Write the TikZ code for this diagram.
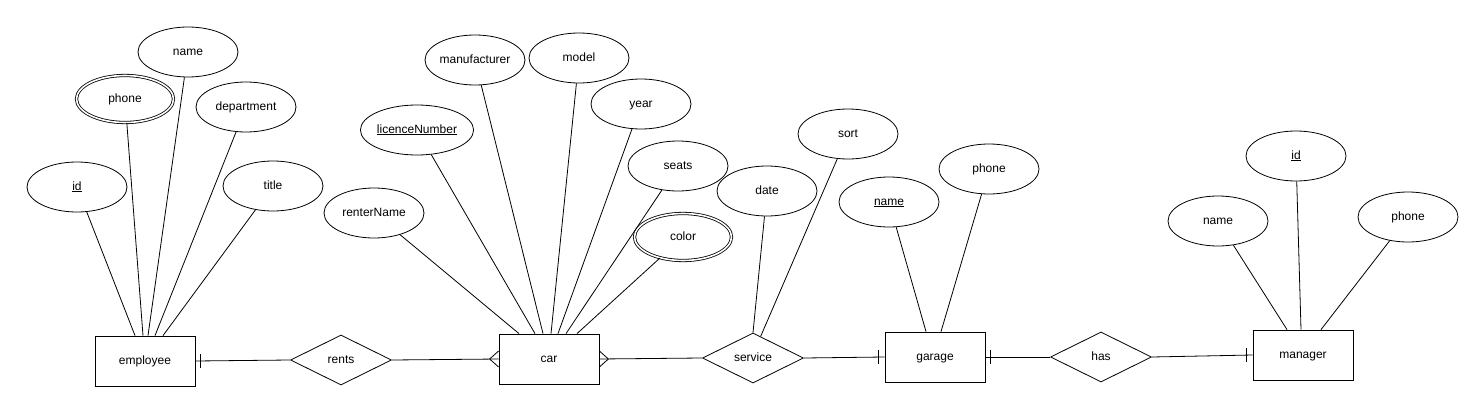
\documentclass[tikz,border=0pt]{standalone}
\usepackage{fontspec}
\setmainfont{Liberation Sans}
\usetikzlibrary{shapes.geometric,calc}
\begin{document}
\begin{tikzpicture}[x=1pt,y=-1pt,line width=0.8pt]
	\tikzstyle{every node} = [font=\fontsize{12}{14}\selectfont, text height=8.6pt, text depth=2.4pt]
	\tikzstyle{attr} = [draw, ellipse, minimum width=100pt, minimum height=50pt, inner sep=0pt]
	\tikzstyle{multiattr} = [attr, double, double distance=1.6pt, minimum width=97pt, minimum height=47pt]
	\tikzstyle{entity} = [draw, rectangle, minimum width=100pt, minimum height=50pt, inner sep=0pt]
	\tikzstyle{relation} = [draw, diamond, aspect=2, minimum width=101pt, minimum height=50pt, inner sep=0pt]
	\useasboundingbox (0,0) rectangle (1480,412);
	\node[entity] (employee) at (145,361) {employee};
	\node[entity] (car) at (549,359) {car};
	\node[entity] (garage) at (935,357) {garage};
	\node[entity] (manager) at (1303,355) {manager};
	\node[relation] (rents) at (341,360) {rents};
	\node[relation] (service) at (753,358) {service};
	\node[relation] (has) at (1101,357) {has};
	\node[attr] (empid) at (77,187) {\underline{id}};
	\node[multiattr] (empphone) at (125,99) {phone};
	\node[attr] (empname) at (188,52) {name};
	\node[attr] (empdept) at (246,107) {department};
	\node[attr] (emptitle) at (273,186) {title};
	\node[attr] (renter) at (374,213) {renterName};
	\node[attr] (licence) at (417,130) {\underline{licenceNumber}};
	\node[attr] (manuf) at (475,60) {manufacturer};
	\node[attr] (model) at (579,58) {model};
	\node[attr] (year) at (641,104) {year};
	\node[attr] (seats) at (678,166) {seats};
	\node[multiattr] (color) at (683,237) {color};
	\node[attr] (date) at (767,191) {date};
	\node[attr] (sort) at (848,134) {sort};
	\node[attr] (garname) at (889,202) {\underline{name}};
	\node[attr] (garphone) at (989,169) {phone};
	\node[attr] (manid) at (1296,156) {\underline{id}};
	\node[attr] (manname) at (1218,221) {name};
	\node[attr] (manphone) at (1408,217) {phone};
	\draw (empid) -- ([xshift=-10pt]employee.north);
	\draw (empphone) -- ([xshift=-2pt]employee.north);
	\draw (empname) -- ([xshift=3pt]employee.north);
	\draw (empdept) -- ([xshift=10pt]employee.north);
	\draw (emptitle) -- ([xshift=18pt]employee.north);
	\draw (renter) -- ([xshift=-30pt]car.north);
	\draw (licence) -- ([xshift=-14pt]car.north);
	\draw (manuf) -- ([xshift=-6pt]car.north);
	\draw (model) -- ([xshift=2pt]car.north);
	\draw (year) -- ([xshift=9pt]car.north);
	\draw (seats) -- ([xshift=17pt]car.north);
	\draw (color) -- ([xshift=28pt]car.north);
	\draw (date) -- (service.north);
	\draw (sort) -- ($(service.north)!0.15!(service.east)$);
	\draw (garname) -- ([xshift=-9pt]garage.north);
	\draw (garphone) -- ([xshift=6pt]garage.north);
	\draw (manname) -- ([xshift=-16pt]manager.north);
	\draw (manid) -- ([xshift=-2pt]manager.north);
	\draw (manphone) -- ([xshift=18pt]manager.north);
	\draw (employee.east) -- (rents.west);
	\draw ([xshift=5pt,yshift=7pt]employee.east) -- ([xshift=5pt,yshift=-7pt]employee.east);
	\draw (rents.east) -- (car.west);
	\draw ([yshift=8pt]car.west) -- ([xshift=-9pt]car.west) -- ([yshift=-8pt]car.west);
	\draw (car.east) -- (service.west);
	\draw ([yshift=8pt]car.east) -- ([xshift=9pt]car.east) -- ([yshift=-8pt]car.east);
	\draw (service.east) -- (garage.west);
	\draw ([xshift=-6pt,yshift=7pt]garage.west) -- ([xshift=-6pt,yshift=-7pt]garage.west);
	\draw (garage.east) -- (has.west);
	\draw ([xshift=5pt,yshift=7pt]garage.east) -- ([xshift=5pt,yshift=-7pt]garage.east);
	\draw (has.east) -- (manager.west);
	\draw ([xshift=-6pt,yshift=7pt]manager.west) -- ([xshift=-6pt,yshift=-7pt]manager.west);
\end{tikzpicture}
\end{document}
